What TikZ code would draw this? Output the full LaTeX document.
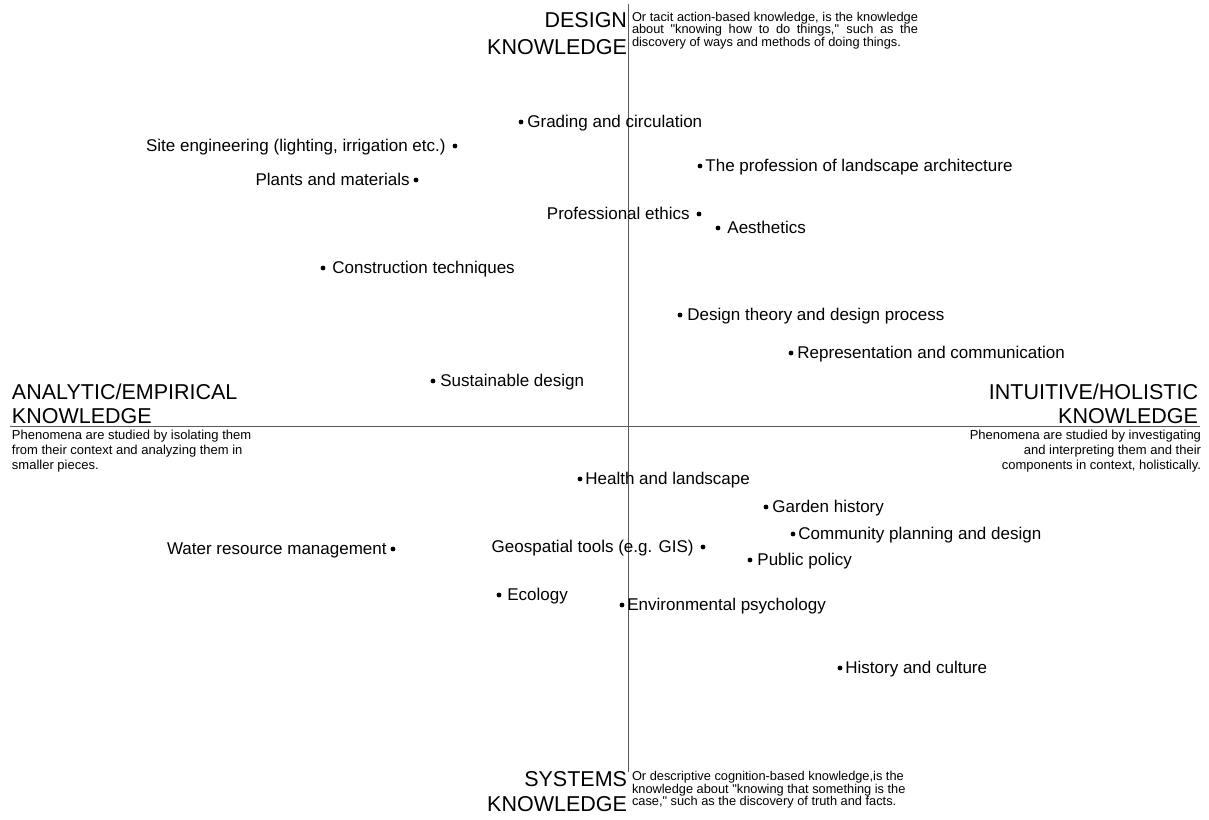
\documentclass[tikz,border=0pt]{standalone}
\usepackage{fontspec}
\setmainfont{Liberation Sans}
\usetikzlibrary{positioning}

\begin{document}
\begin{tikzpicture}[x=1pt,y=-1pt]
		\tikzset{
			my axis/.style={draw=black!65, line width=0.9pt},
			my dot/.style={circle, fill=black, inner sep=0pt, outer sep=0pt, minimum size=4.8pt},
			my label/.style={inner sep=0pt, outer sep=0pt, text height=10pt, text depth=0pt,
					font=\fontsize{17}{20}\selectfont},
			my head/.style={inner sep=0pt, outer sep=0pt, font=\fontsize{21.5}{25}\selectfont},
			my note/.style={inner sep=0pt, outer sep=0pt, font=\fontsize{12.8}{12.6}\selectfont},
			my side note/.style={inner sep=0pt, outer sep=0pt, font=\fontsize{13}{15}\selectfont},
		}
		\useasboundingbox (0,0) rectangle (1209,819);
		%
		% axes
		\coordinate (ytop) at (628,4);
		\coordinate (ybot) at (628,772);
		\coordinate (xleft) at (10,426);
		\coordinate (xright) at (1200,426);
		\draw[my axis] (ytop) -- (ybot);
		\draw[my axis] (xleft) -- (xright);
		%
		% pole headings
		\node[my head, anchor=north east, align=right] (design) at (627,12.3)
			{DESIGN\\[2pt]KNOWLEDGE};
		\node[my note, anchor=north west, text width=286pt, align=justify] (designnote) at (632,12)
			{Or tacit action-based knowledge, is the knowledge\linebreak
			about \textquotedbl knowing how to do things,\textquotedbl{} such as the\linebreak
			discovery of ways and methods of doing things.};
		\node[my head, anchor=north east, align=right] (systems) at (627,771.5)
			{SYSTEMS\\KNOWLEDGE};
		\node[my note, anchor=north west, align=left] (systemsnote) at (632,771.5)
			{Or descriptive cognition-based knowledge,is the\\
			knowledge about \textquotedbl knowing that something is the\\
			case,\textquotedbl{} such as the discovery of truth and facts.};
		\node[my head, anchor=north west, align=left] (analytic) at (12,383.5)
			{ANALYTIC/EMPIRICAL\\[-1pt]KNOWLEDGE};
		\node[my side note, anchor=north west, align=left] (analyticnote) at (12,430)
			{Phenomena are studied by isolating them\\
			from their context and analyzing them in\\
			smaller pieces.};
		\node[my head, anchor=north east, align=right] (intuitive) at (1198,383.5)
			{INTUITIVE/HOLISTIC\\[-1pt]KNOWLEDGE};
		\node[my side note, anchor=north east, align=right] (intuitivenote) at (1201,430)
			{Phenomena are studied by investigating\\
			and interpreting them and their\\
			components in context, holistically.};
		%
		% design knowledge side
		\node[my dot] (grading) at (521,122) {};
		\node[my label, right=4pt of grading] (gradingtxt) {Grading and circulation};
		\node[my dot] (siteeng) at (455,146) {};
		\node[my label, left=7pt of siteeng] (siteengtxt) {Site engineering (lighting, irrigation etc.)};
		\node[my dot] (plants) at (416,180) {};
		\node[my label, left=4pt of plants] (plantstxt) {Plants and materials};
		\node[my dot] (profession) at (700,166) {};
		\node[my label, right=3pt of profession] (professiontxt) {The profession of landscape architecture};
		\node[my dot] (ethics) at (699,214) {};
		\node[my label, left=7pt of ethics] (ethicstxt) {Professional ethics};
		\node[my dot] (aesthetics) at (718,228) {};
		\node[my label, right=7pt of aesthetics] (aestheticstxt) {Aesthetics};
		\node[my dot] (construction) at (323,268) {};
		\node[my label, right=7pt of construction] (constructiontxt) {Construction techniques};
		\node[my dot] (theory) at (680,315) {};
		\node[my label, right=5pt of theory] (theorytxt) {Design theory and design process};
		\node[my dot] (represent) at (791,353) {};
		\node[my label, right=4pt of represent] (representtxt) {Representation and communication};
		\node[my dot] (sustain) at (433,381) {};
		\node[my label, right=5pt of sustain] (sustaintxt) {Sustainable design};
		%
		% systems knowledge side
		\node[my dot] (health) at (580,479) {};
		\node[my label, right=3pt of health] (healthtxt) {Health and landscape};
		\node[my dot] (garden) at (766,507) {};
		\node[my label, right=4pt of garden] (gardentxt) {Garden history};
		\node[my dot] (community) at (793,534) {};
		\node[my label, right=3pt of community] (communitytxt) {Community planning and design};
		\node[my dot] (water) at (393,549) {};
		\node[my label, left=4pt of water] (watertxt) {Water resource management};
		\node[my dot] (gis) at (703,547) {};
		\node[my label, left=7pt of gis] (gistxt) {Geospatial tools (e.g. GIS)};
		\node[my dot] (policy) at (750,560) {};
		\node[my label, right=5pt of policy] (policytxt) {Public policy};
		\node[my dot] (ecology) at (499,595) {};
		\node[my label, right=6pt of ecology] (ecologytxt) {Ecology};
		\node[my dot] (envpsych) at (622,605) {};
		\node[my label, right=3pt of envpsych] (envpsychtxt) {Environmental psychology};
		\node[my dot] (history) at (840,668) {};
		\node[my label, right=3pt of history] (historytxt) {History and culture};
\end{tikzpicture}
\end{document}
